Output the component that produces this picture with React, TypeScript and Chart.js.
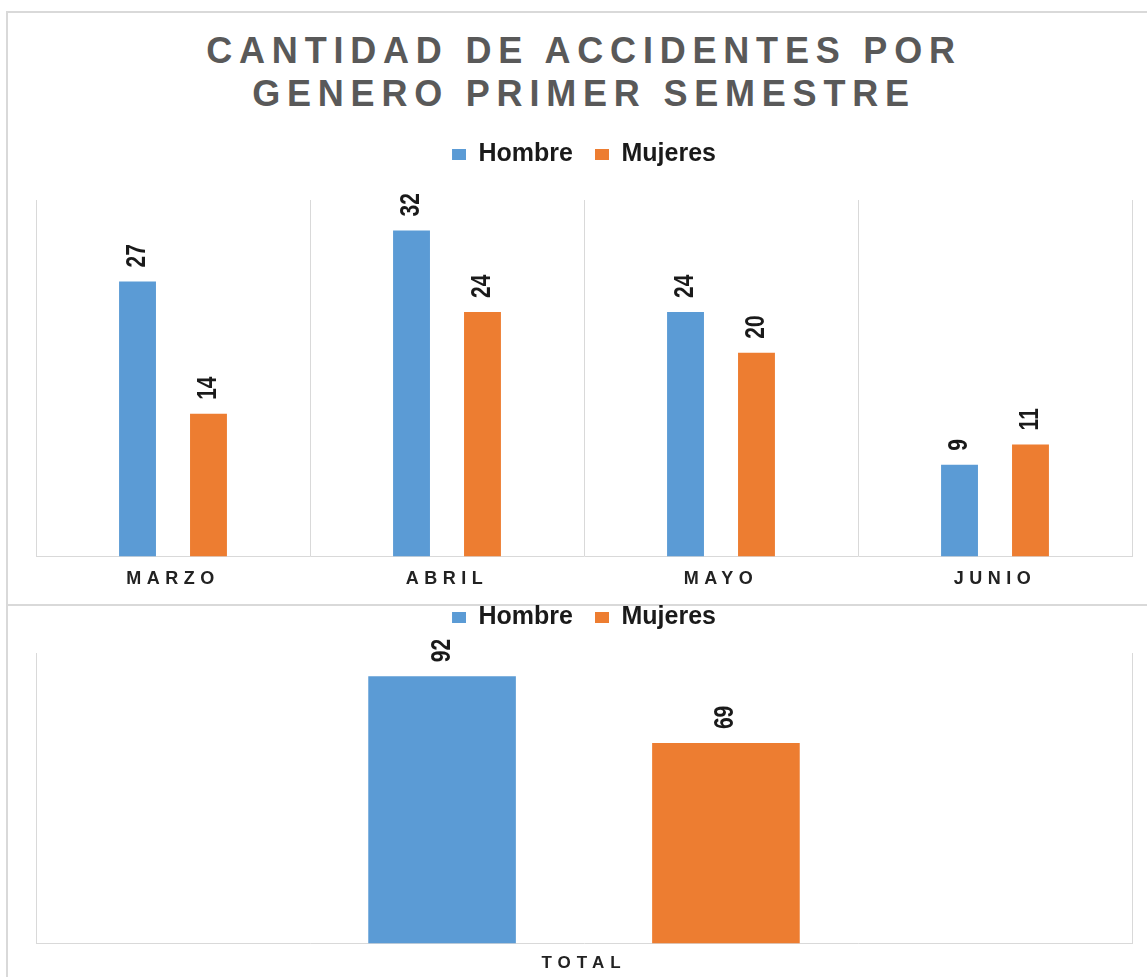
import React, { useEffect, useRef } from 'react';
import { Chart, registerables } from 'chart.js';

Chart.register(...registerables);

// ---------- data ----------
const titleLines = ['CANTIDAD DE ACCIDENTES POR', 'GENERO PRIMER SEMESTRE'];
const seriesNames = ['Hombre', 'Mujeres'];
const months = ['MARZO', 'ABRIL', 'MAYO', 'JUNIO'];
const hombreMes = [27, 32, 24, 9];
const mujeresMes = [14, 24, 20, 11];
const totalCats = ['TOTAL'];
const hombreTotal = [92];
const mujeresTotal = [69];

// ---------- styles ----------
const BLUE = '#5B9BD5';
const ORANGE = '#ED7D31';
const GRID = '#d9d9d9';
const FONT = "'Liberation Sans', Arial, Helvetica, sans-serif";
const CANVAS_W = 1168;

type Cfg = {
  labels: string[];
  a: number[];
  b: number[];
  yMax: number;
  top: number;
  height: number;
  padTop: number;
  padBottom: number;
  legendExtra: number;
  tickSize: number;
  tickSpacing: number;
  tickPad: number;
};

function makePlugin(cfg: Cfg) {
  return {
    id: 'customDecor',
    beforeLayout(chart: any) {
      const lg = chart.legend;
      if (lg && !lg.__patched) {
        const orig = lg.fit;
        lg.fit = function () {
          orig.call(this);
          this.height += cfg.legendExtra;
        };
        lg.__patched = true;
      }
    },
    afterDatasetsDraw(chart: any) {
      const ctx = chart.ctx as CanvasRenderingContext2D;
      chart.data.datasets.forEach((ds: any, i: number) => {
        const meta = chart.getDatasetMeta(i);
        meta.data.forEach((bar: any, j: number) => {
          const v = ds.data[j];
          ctx.save();
          (ctx as any).letterSpacing = '0px';
          ctx.translate(bar.x, bar.y - 14);
          ctx.rotate(-Math.PI / 2);
          ctx.scale(1, 1.3);
          ctx.font = `bold 21px ${FONT}`;
          ctx.fillStyle = '#1a1a1a';
          ctx.textAlign = 'left';
          ctx.textBaseline = 'middle';
          ctx.fillText(String(v), 0, 0);
          ctx.restore();
        });
      });
      // tick labels (z: 1) are drawn after this hook: give them letter spacing
      (ctx as any).letterSpacing = `${cfg.tickSpacing}px`;
    },
    afterDraw(chart: any) {
      (chart.ctx as any).letterSpacing = '0px';
    },
  };
}

function BarChart({ cfg }: { cfg: Cfg }) {
  const ref = useRef<HTMLCanvasElement | null>(null);
  useEffect(() => {
    if (!ref.current) return;
    const chart = new Chart(ref.current, {
      type: 'bar',
      data: {
        labels: cfg.labels,
        datasets: [
          {
            label: seriesNames[0],
            data: cfg.a,
            backgroundColor: BLUE,
            categoryPercentage: 0.518,
            barPercentage: 0.52,
          },
          {
            label: seriesNames[1],
            data: cfg.b,
            backgroundColor: ORANGE,
            categoryPercentage: 0.518,
            barPercentage: 0.52,
          },
        ],
      },
      options: {
        responsive: false,
        animation: false,
        events: [],
        layout: {
          padding: { left: 36, right: 36, top: cfg.padTop, bottom: cfg.padBottom },
        },
        plugins: {
          title: { display: false },
          tooltip: { enabled: false },
          legend: {
            display: true,
            position: 'top',
            labels: {
              font: { family: FONT, size: 25, weight: 'bold' },
              color: '#1a1a1a',
              boxWidth: 14,
              boxHeight: 11,
              padding: 22,
            },
          },
        },
        scales: {
          x: {
            grid: { display: true, color: GRID, lineWidth: 1, drawTicks: false, offset: true },
            border: { display: true, color: GRID, width: 1 },
            ticks: {
              font: { family: FONT, size: cfg.tickSize, weight: 'bold' },
              color: '#222222',
              padding: cfg.tickPad,
              z: 1,
              autoSkip: false,
              maxRotation: 0,
            },
          },
          y: { display: false, min: 0, max: cfg.yMax },
        },
      } as any,
      plugins: [makePlugin(cfg)],
    });
    return () => chart.destroy();
  }, []);
  return (
    <canvas
      ref={ref}
      width={CANVAS_W}
      height={cfg.height}
      style={{ position: 'absolute', left: 0, top: cfg.top, display: 'block' }}
    />
  );
}

const topCfg: Cfg = {
  labels: months,
  a: hombreMes,
  b: mujeresMes,
  yMax: 35,
  top: 101,
  height: 511,
  padTop: 19,
  padBottom: 10,
  legendExtra: 23,
  tickSize: 18,
  tickSpacing: 5.5,
  tickPad: 12,
};

const bottomCfg: Cfg = {
  labels: totalCats,
  a: hombreTotal,
  b: mujeresTotal,
  yMax: 100,
  top: 571,
  height: 419,
  padTop: 12,
  padBottom: 6,
  legendExtra: 13,
  tickSize: 17,
  tickSpacing: 6,
  tickPad: 10,
};

export default function App() {
  return (
    <div
      style={{
        position: 'absolute',
        left: 0,
        top: 0,
        width: 1147,
        height: 977,
        overflow: 'hidden',
        background: '#ffffff',
      }}
    >
      <div
        style={{
          position: 'absolute',
          left: 6,
          top: 11,
          width: 1156,
          height: 595,
          border: `2px solid ${GRID}`,
          boxSizing: 'border-box',
        }}
      />
      <div
        style={{
          position: 'absolute',
          left: 6,
          top: 604,
          width: 1156,
          height: 420,
          border: `2px solid ${GRID}`,
          boxSizing: 'border-box',
        }}
      />
      <div
        style={{
          position: 'absolute',
          left: 6,
          top: 29,
          width: 1156,
          textAlign: 'center',
          fontFamily: FONT,
          fontWeight: 'bold',
          fontSize: 36,
          letterSpacing: '6.8px',
          lineHeight: '43px',
          color: '#595959',
          whiteSpace: 'nowrap',
        }}
      >
        {titleLines.map((t) => (
          <div key={t}>{t}</div>
        ))}
      </div>
      <BarChart cfg={topCfg} />
      <BarChart cfg={bottomCfg} />
    </div>
  );
}
